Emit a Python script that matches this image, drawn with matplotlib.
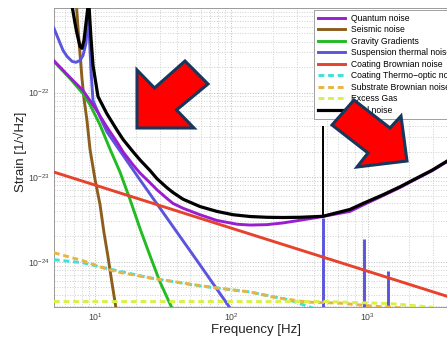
import matplotlib
matplotlib.use("Agg")
import matplotlib.pyplot as plt
from matplotlib.patches import Polygon
from matplotlib.ticker import LogLocator, NullFormatter, FixedLocator, FixedFormatter

plt.rcParams['font.family'] = ['Liberation Sans', 'DejaVu Sans']
plt.rcParams['mathtext.fontset'] = 'custom'
plt.rcParams['mathtext.rm'] = 'Liberation Sans'

# ---------------- data ----------------
quantum_f = [5, 6.56, 8.17, 10.34, 10.88, 12.24, 14.5, 16.04, 19.0, 21.37, 25.3, 28.46, 33.7,
             37.27, 44.1, 58.8, 78.3, 110, 137, 182, 238, 318, 423, 738, 934, 1288, 1714,
             2286, 2946, 3793, 5000]
quantum_h = [2.38e-22, 1.51e-22, 1.06e-22, 6.1e-23, 5.3e-23, 3.9e-23, 2.6e-23, 2.0e-23,
             1.4e-23, 1.12e-23, 8.6e-24, 7.1e-24, 5.6e-24, 4.9e-24, 4.3e-24, 3.6e-24,
             3.08e-24, 2.78e-24, 2.72e-24, 2.75e-24, 2.88e-24, 3.1e-24, 3.34e-24, 3.94e-24,
             4.75e-24, 6.05e-24, 7.55e-24, 9.65e-24, 1.19e-23, 1.53e-23, 2.0e-23]

seismic_f = [7.32, 7.51, 7.76, 8.03, 8.31, 8.74, 9.19, 10.0, 10.88, 11.64, 12.45, 13.32, 14.25, 15.25]
seismic_h = [1.06e-21, 5.78e-22, 2.91e-22, 1.47e-22, 8.48e-23, 4.64e-23, 2.15e-23,
             9.46e-24, 4.77e-24, 2.21e-24, 1.15e-24, 5.62e-25, 2.83e-25, 1.43e-25]

gravity_f = [5, 6.56, 8.17, 9.19, 10.88, 12.88, 15.25, 18.05, 21.37, 25.3, 29.94, 36.65, 41.95]
gravity_h = [2.34e-22, 1.47e-22, 9.73e-23, 7.2e-23, 4.16e-23, 2.15e-23, 1.15e-23,
             5.47e-24, 2.47e-24, 1.18e-24, 5.78e-25, 2.83e-25, 1.55e-25]

susp_f = [5, 5.36, 5.83, 6.24, 6.79, 7.26, 7.76, 8.17, 8.59, 8.89, 8.96, 9.11, 9.35, 9.67,
          10.88, 12.24, 21.37, 37.27, 58.8, 94.3, 115.4]
susp_h = [5.78e-22, 4.40e-22, 3.16e-22, 2.68e-22, 2.34e-22, 2.28e-22, 2.40e-22, 2.75e-22,
          3.83e-22, 7.6e-22, 3e-21, 4.4e-22, 1.83e-22, 8.03e-23, 5.18e-23, 3.43e-23,
          9.3e-24, 2.61e-24, 9.2e-25, 3.08e-25, 1.93e-25]
violin_f = [466, 932, 1398]
violin_h = [3.34e-24, 1.88e-24, 7.8e-25]

coating_f = [5, 5000]
coating_h = [1.15e-23, 3.4e-25]

thermo_f = [5, 8.17, 10.88, 25.3, 58.8, 137, 268, 395, 527]
thermo_h = [1.06e-24, 9.73e-25, 8.71e-25, 6.45e-25, 5.18e-25, 4.40e-25, 3.53e-25, 2.83e-25, 2.15e-25]

substrate_f = [5, 8.17, 10.88, 14.5, 25.3, 44.1, 78.3, 137, 201, 357, 624, 1088, 1931, 3793]
substrate_h = [1.28e-24, 1.03e-24, 8.71e-25, 7.6e-25, 6.45e-25, 5.62e-25, 4.9e-25, 4.40e-25,
               3.83e-25, 3.34e-25, 3.25e-25, 2.99e-25, 2.83e-25, 2.6e-25]

gas_f = [5, 500, 1500, 3000]
gas_h = [3.39e-25, 3.39e-25, 3.2e-25, 2.9e-25]

total_f = [6.79, 7.14, 7.38, 7.76, 8.03, 8.31, 8.59, 8.89, 8.96, 9.04, 9.35, 9.67, 10.52,
           12.24, 14.5, 16.04, 19.0, 21.37, 25.3, 28.46, 33.7, 37.27, 44.1, 58.8, 78.3, 103,
           137, 182, 238, 318, 466, 738, 934, 1288, 1714, 2286, 2946, 3793, 5000]
total_h = [1.06e-21, 6.6e-22, 5.0e-22, 3.53e-22, 3.34e-22, 4.16e-22, 6.6e-22, 1.06e-21,
           3e-21, 1.06e-21, 4.4e-22, 2.1e-22, 9.0e-23, 5.6e-23, 3.6e-23, 2.8e-23, 2.0e-23,
           1.6e-23, 1.2e-23, 9.6e-24, 7.5e-24, 6.6e-24, 5.5e-24, 4.5e-24, 3.94e-24, 3.6e-24,
           3.43e-24, 3.36e-24, 3.34e-24, 3.36e-24, 3.45e-24, 4.16e-24, 4.95e-24, 6.2e-24,
           7.7e-24, 9.8e-24, 1.21e-23, 1.55e-23, 2.03e-23]
total_spike_f = 466
total_spike_h = [3.45e-24, 4.05e-23]

ytick_vals = [1e-24, 1e-23, 1e-22]
ytick_labels = [r'$10^{-24}$', r'$10^{-23}$', r'$10^{-22}$']
xtick_vals = [10, 100, 1000]
xtick_labels = [r'$10^{1}$', r'$10^{2}$', r'$10^{3}$']

labels = ["Quantum noise", "Seismic noise", "Gravity Gradients", "Suspension thermal noise",
          "Coating Brownian noise", "Coating Thermo\u2212optic noise", "Substrate Brownian noise",
          "Excess Gas", "Total noise"]
colors = ["#9A1ED0", "#8C5E1E", "#22BB22", "#5A55DC", "#E5432E", "#3FE0DA", "#E9B443",
          "#D9F046", "#000000"]

# ---------------- figure ----------------
W, H = 447, 338
fig = plt.figure(figsize=(W / 100, H / 100), dpi=100)
ax = fig.add_axes([53.9 / W, (H - 307.3) / H, 409.5 / W, 299.3 / H])
ax.set_xscale('log')
ax.set_yscale('log')
ax.set_xlim(5, 5000)
ax.set_ylim(2.9e-25, 1.0e-21)

lw = 2.1
dash = (2.0, 1.3)
l_q, = ax.plot(quantum_f, quantum_h, color=colors[0], lw=lw, zorder=4, label=labels[0])
l_s, = ax.plot(seismic_f, seismic_h, color=colors[1], lw=lw, zorder=3, label=labels[1])
l_g, = ax.plot(gravity_f, gravity_h, color=colors[2], lw=lw, zorder=3, label=labels[2])
l_b, = ax.plot(susp_f, susp_h, color=colors[3], lw=lw, zorder=3, label=labels[3])
ax.vlines(violin_f, 1e-26, violin_h, color=colors[3], lw=lw, zorder=3)
l_r, = ax.plot(coating_f, coating_h, color=colors[4], lw=lw, zorder=3.5, label=labels[4])
l_c, = ax.plot(thermo_f, thermo_h, color=colors[5], lw=lw, ls=(0, dash), zorder=3, label=labels[5])
l_o, = ax.plot(substrate_f, substrate_h, color=colors[6], lw=lw, ls=(0, dash), zorder=3.1, label=labels[6])
l_y, = ax.plot(gas_f, gas_h, color=colors[7], lw=lw, ls=(0, dash), zorder=3.2, label=labels[7])
l_t, = ax.plot(total_f, total_h, color=colors[8], lw=2.3, zorder=5, label=labels[8])
ax.vlines(total_spike_f, total_spike_h[0], total_spike_h[1], color='black', lw=1.4, zorder=5)

ax.xaxis.set_major_locator(FixedLocator(xtick_vals))
ax.xaxis.set_major_formatter(FixedFormatter(xtick_labels))
ax.yaxis.set_major_locator(FixedLocator(ytick_vals))
ax.yaxis.set_major_formatter(FixedFormatter(ytick_labels))
ax.xaxis.set_minor_locator(LogLocator(base=10, subs=range(2, 10), numticks=20))
ax.yaxis.set_minor_locator(LogLocator(base=10, subs=range(2, 10), numticks=20))
ax.xaxis.set_minor_formatter(NullFormatter())
ax.yaxis.set_minor_formatter(NullFormatter())
ax.tick_params(which='both', direction='in', length=0, labelsize=6.3, colors='#444444')
ax.tick_params(axis='x', pad=3)
ax.tick_params(axis='y', pad=3)
ax.grid(True, which='major', ls=':', lw=0.7, color='#bdbdbd')
ax.grid(True, which='minor', ls=':', lw=0.7, color='#cfcfcf')
for s in ax.spines.values():
    s.set_color('#9a9a9a')
    s.set_linewidth(0.7)

ax.set_xlabel('Frequency [Hz]', fontsize=9.5, color='#222222')
ax.set_ylabel('Strain [1/\u221aHz]', fontsize=9.5, color='#222222')
ax.xaxis.set_label_coords((256 - 53.9) / 409.5, (307.3 - 323.5) / 299.3)
ax.yaxis.set_label_coords((27 - 53.9) / 409.5, (307.3 - 152) / 299.3)

leg = ax.legend(handles=[l_q, l_s, l_g, l_b, l_r, l_c, l_o, l_y, l_t], loc='upper left',
                bbox_to_anchor=(314 / W, 1 - 10 / H), bbox_transform=fig.transFigure,
                fontsize=6.2, frameon=True, fancybox=False, framealpha=1,
                edgecolor='#a0a0a0', borderpad=0.45, labelspacing=0.29,
                handlelength=3.2, handletextpad=0.6, borderaxespad=0)
leg.get_frame().set_linewidth(0.7)
leg.set_zorder(10)

# ---------------- red arrows overlay ----------------
ov = fig.add_axes([0, 0, 1, 1], facecolor='none')
ov.set_xlim(0, W)
ov.set_ylim(H, 0)
ov.axis('off')
left_arrow = [(137, 128), (137, 70), (154.5, 88), (185, 61), (208, 84), (176.5, 110), (194, 128)]
right_arrow = [(407, 161), (401, 116), (390, 128), (354, 100), (332, 125), (368, 153), (357, 167)]
for pts in (left_arrow, right_arrow):
    ov.add_patch(Polygon(pts, closed=True, facecolor='#FF0000', edgecolor='#16385C',
                         lw=2.2, joinstyle='miter', zorder=20))

fig.savefig('out.png', dpi=100)
